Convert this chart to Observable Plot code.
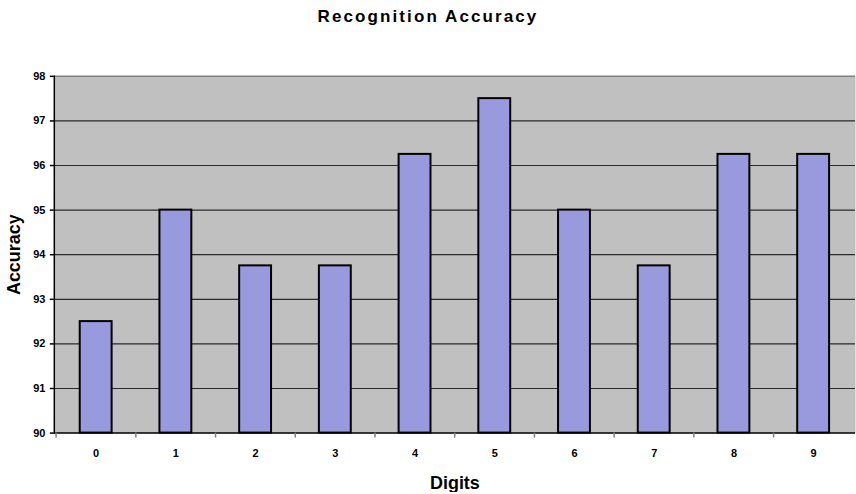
<!DOCTYPE html>
<html>
<head>
<meta charset="utf-8">
<script src="https://cdn.jsdelivr.net/npm/d3@7"></script>
<script src="https://cdn.jsdelivr.net/npm/@observablehq/plot@0.6"></script>
<style>
  html, body { margin: 0; padding: 0; background: #fff; overflow: hidden; }
  #title {
    height: 30px;
    font-family: "Liberation Sans", Arial, sans-serif;
    font-weight: bold;
    font-size: 17px;
    letter-spacing: 2.1px;
    text-align: center;
    line-height: 34px;
    width: 856px;
    color: #000;
  }
  svg { display: block; overflow: visible; }
</style>
</head>
<body>
<div id="title">Recognition Accuracy</div>
<div id="chart"></div>
<script>
// Recognition accuracy (%) per handwritten digit
const digits = ["0", "1", "2", "3", "4", "5", "6", "7", "8", "9"];
const accuracy = [92.5, 95, 93.75, 93.75, 96.25, 97.5, 95, 93.75, 96.25, 96.25];
const yTicks = [90, 91, 92, 93, 94, 95, 96, 97, 98];

const data = digits.map((d, i) => ({digit: d, accuracy: accuracy[i]}));

const W = 859, H = 464;
const mL = 54, mR = 1, mT = 46, mB = 60;
const step = (W - mL - mR) / digits.length;
const font = "'Liberation Sans', Arial, sans-serif";

const chart = Plot.plot({
  width: W,
  height: H,
  marginLeft: mL,
  marginRight: mR,
  marginTop: mT,
  marginBottom: mB,
  style: {fontFamily: font, fontWeight: "bold", fontSize: "11px", color: "#000", background: "transparent"},
  x: {domain: digits, paddingInner: 0.6, paddingOuter: 0.3, label: null},
  y: {domain: [90, 98], label: null},
  marks: [
    Plot.frame({fill: "#c0c0c0", stroke: null}),
    // horizontal gridlines
    Plot.ruleY(yTicks.filter(t => t > 90 && t < 98), {y: d => d, stroke: "#2a2a2a", strokeWidth: 1.2}),
    Plot.ruleY([98], {stroke: "#808080", strokeWidth: 1.5}),
    // bars
    Plot.barY(data, {x: "digit", y1: 90, y2: "accuracy", fill: "#9999dd", stroke: "#000", strokeWidth: 2}),
    // axis lines
    Plot.ruleY([90], {stroke: "#000", strokeWidth: 1.5}),
    Plot.frame({anchor: "left", stroke: "#000", strokeWidth: 1.5}),
    // y axis ticks + labels
    Plot.axisY({ticks: yTicks, tickSize: 4, tickPadding: 5, stroke: "#000", strokeWidth: 1.5, fontSize: 11, fontWeight: "bold", label: null, style: "letter-spacing:0.5px"}),
    // x category labels
    Plot.axisX({tickSize: 0, tickPadding: 16, fontSize: 11, fontWeight: "bold", label: null}),
    // tick marks between categories
    Plot.axisX({tickSize: 5, tickFormat: () => "", dx: -step / 2, stroke: "#808080", strokeWidth: 1.5, label: null}),
    // axis titles
    Plot.text(["Digits"], {frameAnchor: "bottom", dy: 50, fontSize: 18, fontWeight: "bold", text: d => d, fill: "#000", lineAnchor: "middle", style: "letter-spacing:1.5px"}),
    Plot.text(["Accuracy"], {frameAnchor: "left", dx: -40, rotate: -90, fontSize: 18, fontWeight: "bold", text: d => d, fill: "#000", textAnchor: "middle", lineAnchor: "middle", style: "letter-spacing:1.5px"})
  ]
});
document.getElementById("chart").appendChild(chart);
</script>
</body>
</html>
